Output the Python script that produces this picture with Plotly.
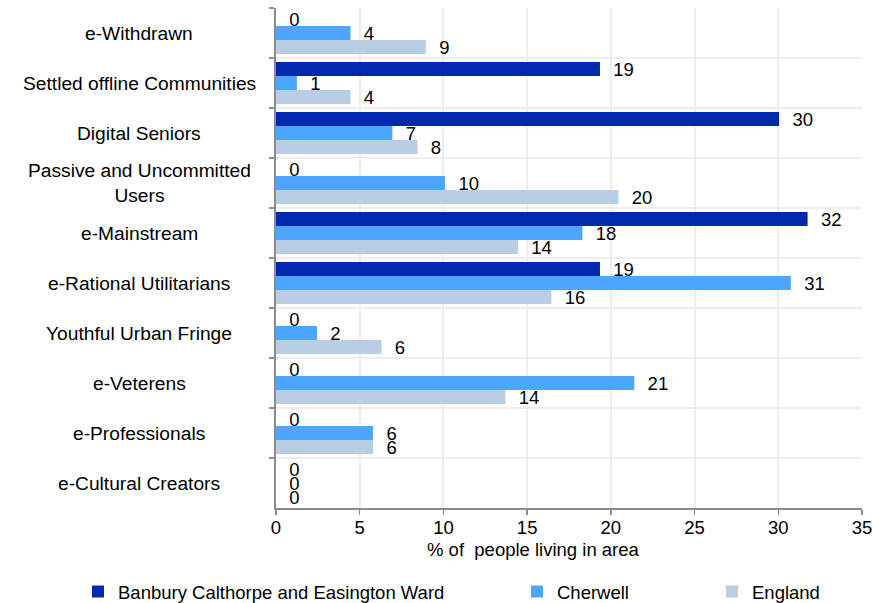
import plotly.graph_objects as go

categories = ["e-Withdrawn", "Settled offline Communities", "Digital Seniors",
              "Passive and Uncommitted Users", "e-Mainstream", "e-Rational Utilitarians",
              "Youthful Urban Fringe", "e-Veterens", "e-Professionals", "e-Cultural Creators"]
category_labels = ["e-Withdrawn", "Settled offline Communities", "Digital Seniors",
                   "Passive and Uncommitted<br>Users", "e-Mainstream", "e-Rational Utilitarians",
                   "Youthful Urban Fringe", "e-Veterens", "e-Professionals", "e-Cultural Creators"]
banbury = [0, 19.35, 30.05, 0, 31.75, 19.35, 0, 0, 0, 0]
cherwell = [4.45, 1.25, 6.95, 10.1, 18.3, 30.75, 2.45, 21.4, 5.8, 0]
england = [8.95, 4.45, 8.45, 20.45, 14.45, 16.45, 6.3, 13.7, 5.8, 0]
series_names = ["Banbury Calthorpe and Easington Ward", "Cherwell", "England"]
colors = ["#0029b0", "#4da6ff", "#b9cde5"]
x_ticks = [0, 5, 10, 15, 20, 25, 30, 35]
x_title = "% of  people living in area"

FONT = "Liberation Sans, Arial, sans-serif"
W, H = 879, 603
L, R, T, B = 276, 17, 8, 95
pw = W - L - R
ph = H - T - B

def px_to_paper_x(px):
    return (px - L) / pw

def px_to_paper_y(py):
    return (H - B - py) / ph

fig = go.Figure()
legend_ids = ["legend", "legend2", "legend3"]
for name, vals, col, lg in zip(series_names, [banbury, cherwell, england], colors, legend_ids):
    fig.add_trace(go.Bar(
        y=categories, x=vals, name=name, orientation="h",
        marker=dict(color=col, line=dict(width=0)),
        text=["\u00a0\u00a0" + str(int(round(v))) for v in vals],
        textposition="outside", constraintext="none", cliponaxis=False,
        textfont=dict(family=FONT, size=18.5, color="#000000"),
        hoverinfo="skip",
        legend=lg,
    ))

# Category labels (centered column left of the axis)
for cat, lab in zip(categories, category_labels):
    fig.add_annotation(x=px_to_paper_x(139), xref="paper", y=cat, yref="y",
                       text=lab, showarrow=False, xanchor="center", yanchor="middle",
                       align="center", font=dict(family=FONT, size=19.2, color="#000000"))

fig.add_annotation(x=px_to_paper_x(533), xref="paper", y=px_to_paper_y(549), yref="paper",
                   text=x_title, showarrow=False, xanchor="center", yanchor="middle",
                   font=dict(family=FONT, size=18.5, color="#000000"))

legend_x_px = [78, 517, 712]
legend_y_px = 592
legend_common = dict(orientation="h", yanchor="middle", xanchor="left",
                     font=dict(family=FONT, size=18.5, color="#000000"),
                     bgcolor="rgba(0,0,0,0)", borderwidth=0)
fig.update_layout(
    legend=dict(x=px_to_paper_x(legend_x_px[0]), y=px_to_paper_y(legend_y_px), **legend_common),
    legend2=dict(x=px_to_paper_x(legend_x_px[1]), y=px_to_paper_y(legend_y_px), **legend_common),
    legend3=dict(x=px_to_paper_x(legend_x_px[2]), y=px_to_paper_y(legend_y_px), **legend_common),
)

fig.update_layout(
    width=W, height=H, autosize=False,
    margin=dict(l=L, r=R, t=T, b=B, pad=0, autoexpand=False),
    paper_bgcolor="white", plot_bgcolor="white",
    barmode="group", bargap=0.16, bargroupgap=0,
    font=dict(family=FONT, size=18, color="#000000"),
    showlegend=True,
    xaxis=dict(range=[0, 35], tickvals=x_ticks, ticktext=[str(t) for t in x_ticks],
               showgrid=True, gridcolor="#eeeeee", gridwidth=2,
               showline=True, linecolor="#8c8c8c", linewidth=2,
               ticks="outside", ticklen=5, tickcolor="#8c8c8c", tickwidth=1.5,
               tickfont=dict(family=FONT, size=18.5, color="#000000"),
               ticklabelstandoff=-3,
               zeroline=False, fixedrange=True, automargin=False),
    yaxis=dict(categoryorder="array", categoryarray=categories,
               range=[len(categories) - 0.5, -0.5],
               showticklabels=False, tickson="boundaries",
               showgrid=True, gridcolor="#eeeeee", gridwidth=2,
               showline=True, linecolor="#8c8c8c", linewidth=2,
               ticks="outside", ticklen=5, tickcolor="#8c8c8c", tickwidth=1.5,
               zeroline=False, fixedrange=True, automargin=False),
)

fig.write_html("out.html", config={"displayModeBar": False, "staticPlot": True},
               post_script="document.body.style.margin='0';document.body.style.padding='0';")
